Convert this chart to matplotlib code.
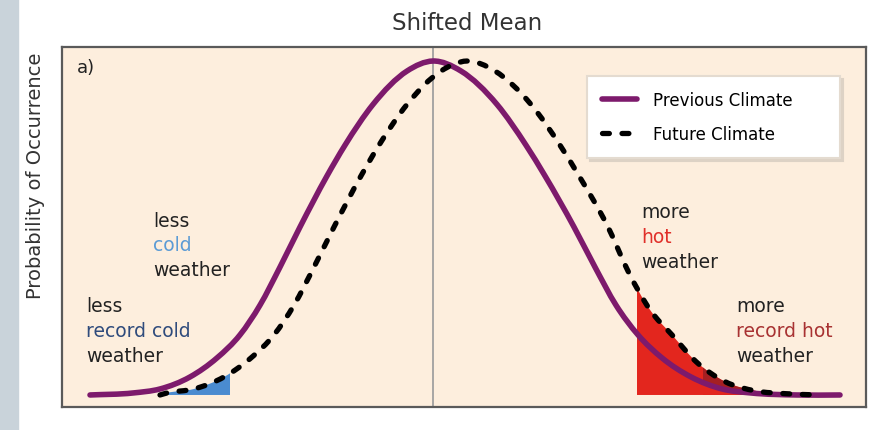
import matplotlib

matplotlib.use("Agg")

import matplotlib.pyplot as plt
import numpy as np
from matplotlib.lines import Line2D
from matplotlib.patches import PathPatch, Rectangle
from matplotlib.path import Path

# temperature (arbitrary units, 0 = previous mean) and relative probability
prev_temp = [-3.43, -3.00, -2.73, -2.43, -2.16, -1.93, -1.73, -1.53, -1.33,
             -1.06, -0.88, -0.60, -0.26, 0.00, 0.28, 0.64, 0.93, 1.12, 1.41,
             1.62, 1.83, 2.05, 2.29, 2.58, 2.89, 3.18, 3.64, 4.07]
prev_prob = [0.000, 0.006, 0.018, 0.054, 0.111, 0.180, 0.269, 0.383, 0.503,
             0.656, 0.748, 0.870, 0.970, 1.000, 0.970, 0.870, 0.748, 0.656, 0.503,
             0.383, 0.269, 0.180, 0.111, 0.054, 0.018, 0.006, 0.000, 0.000]

future_temp = [-2.73, -2.66, -2.39, -2.09, -1.82, -1.59, -1.39, -1.19, -0.99,
               -0.72, -0.54, -0.26, 0.08, 0.34, 0.62, 0.98, 1.27, 1.46, 1.75,
               1.96, 2.17, 2.39, 2.63, 2.92, 3.23, 3.52, 3.87]
future_prob = [0.000, 0.006, 0.018, 0.054, 0.111, 0.180, 0.269, 0.383, 0.503,
               0.656, 0.748, 0.870, 0.970, 1.000, 0.970, 0.870, 0.748, 0.656, 0.503,
               0.365, 0.255, 0.180, 0.100, 0.040, 0.012, 0.004, 0.000]

COLD_LIMIT = -2.03
HOT_LIMIT = 2.04
RECORD_HOT_LIMIT = 2.70

PURPLE = "#7d1a6c"
BG = "#fdeedd"
DOTS = (0, (1.3, 2.4))


def smooth_path(x, y, close=False):
    """Cubic Hermite (Bezier) path through the read points, slopes taken along x."""
    x = np.asarray(x, float)
    y = np.asarray(y, float)
    m = np.gradient(y, x)
    verts = [(x[0], y[0])]
    codes = [Path.MOVETO]
    for i in range(len(x) - 1):
        h = x[i + 1] - x[i]
        verts += [(x[i] + h / 3, y[i] + m[i] * h / 3),
                  (x[i + 1] - h / 3, y[i + 1] - m[i + 1] * h / 3),
                  (x[i + 1], y[i + 1])]
        codes += [Path.CURVE4] * 3
    if close:
        verts += [(x[-1], 0), (x[0], 0), (x[0], 0)]
        codes += [Path.LINETO, Path.LINETO, Path.CLOSEPOLY]
    return Path(verts, codes)


fig = plt.figure(figsize=(8.74, 4.31), dpi=100)
fig.patches.append(Rectangle((0, 0), 18 / 874, 1, transform=fig.transFigure,
                             color="#c9d3da", zorder=0))
ax = fig.add_axes([62 / 874, 23 / 431, 804 / 874, 360 / 431])
ax.set_facecolor(BG)
ax.set_xlim(-3.71, 4.33)
ax.set_ylim(-0.036, 1.042)
ax.set_xticks([])
ax.set_yticks([])
for sp in ax.spines.values():
    sp.set_color("#5a5a5a")
    sp.set_linewidth(1.6)

ax.axvline(0, color="#a0a0a0", lw=1.3, zorder=1)

# areas under each curve, used to clip the shaded tails
prev_area = PathPatch(smooth_path(prev_temp, prev_prob, close=True), fc="none", ec="none")
future_area = PathPatch(smooth_path(future_temp, future_prob, close=True), fc="none", ec="none")
ax.add_patch(prev_area)
ax.add_patch(future_area)

tails = [
    (future_temp[0], COLD_LIMIT, "#4a8bd0", future_area),
    (HOT_LIMIT, future_temp[-1], "#e3261e", future_area),
    (RECORD_HOT_LIMIT, future_temp[-1], "#a51f22", future_area),
    (RECORD_HOT_LIMIT, future_temp[-1], "#e3261e", prev_area),
]
for lo, hi, col, area in tails:
    r = Rectangle((lo, 0), hi - lo, 1.1, fc=col, ec="none", zorder=2)
    ax.add_patch(r)
    r.set_clip_path(area)

ax.add_patch(PathPatch(smooth_path(prev_temp, prev_prob), fill=False, ec=PURPLE, lw=4,
                       capstyle="round", zorder=3))
ax.add_patch(PathPatch(smooth_path(future_temp, future_prob), fill=False, ec="black", lw=3.8,
                       linestyle=DOTS, capstyle="round", zorder=4))


def note(x, y, lines):
    for i, (txt, col) in enumerate(lines):
        ax.text(x, y - i * 0.069, txt, color=col, fontsize=13.5, ha="left", va="center",
                transform=ax.transAxes, zorder=5)


note(0.113, 0.519, [("less", "#222222"), ("cold", "#5b9bd5"), ("weather", "#222222")])
note(0.030, 0.281, [("less", "#222222"), ("record cold", "#2f4b7c"), ("weather", "#222222")])
note(0.721, 0.542, [("more", "#222222"), ("hot", "#e0302a"), ("weather", "#222222")])
note(0.838, 0.281, [("more", "#222222"), ("record hot", "#a83232"), ("weather", "#222222")])
ax.text(0.019, 0.944, "a)", fontsize=13, color="#222222", ha="left", va="center",
        transform=ax.transAxes)

handles = [
    Line2D([], [], color=PURPLE, lw=4, solid_capstyle="round"),
    Line2D([], [], color="black", lw=3.8, linestyle=DOTS, dash_capstyle="round"),
]
leg = ax.legend(handles, ["Previous Climate", "Future Climate"], loc="upper left",
                bbox_to_anchor=(0.653, 0.697, 0.315, 0.222), mode="expand", fontsize=12,
                frameon=True, fancybox=False, borderpad=0.9, labelspacing=0.95,
                handlelength=2.1, handletextpad=0.95, borderaxespad=0,
                shadow={"color": "#ddd2c5", "alpha": 1})
leg.get_frame().set_facecolor("white")
leg.get_frame().set_edgecolor("#e4dbd0")
leg.get_frame().set_linewidth(1.5)
leg.get_frame().set_alpha(1)
leg.set_zorder(6)

fig.text(467 / 874, 1 - 23 / 431, "Shifted Mean", fontsize=16.5, color="#333333",
         ha="center", va="center")
fig.text(36 / 874, 1 - 176 / 431, "Probability of Occurrence", fontsize=14, color="#333333",
         rotation=90, ha="center", va="center")

fig.savefig("out.png", dpi=100)
